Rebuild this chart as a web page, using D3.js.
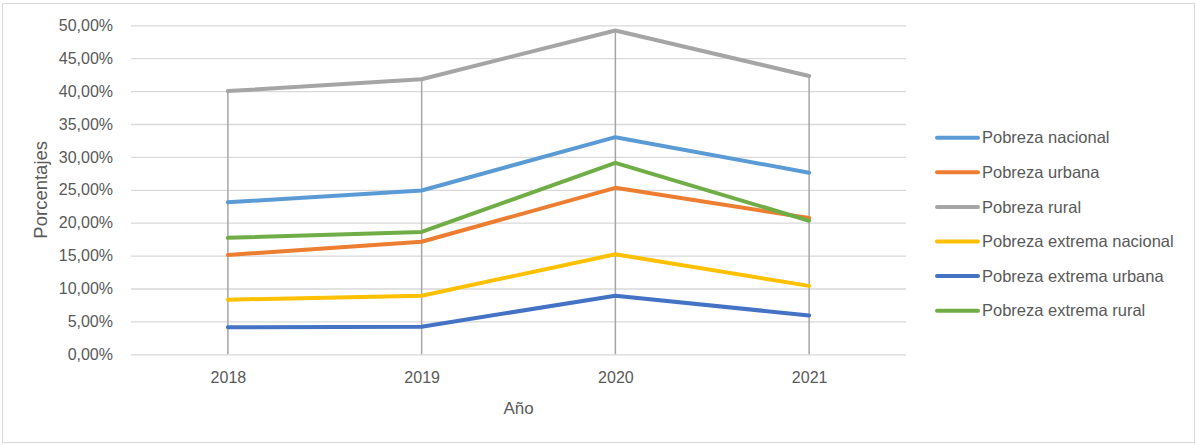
<!DOCTYPE html>
<html>
<head>
<meta charset="utf-8">
<script src="https://cdn.jsdelivr.net/npm/d3@7"></script>
<style>
  body { margin: 0; background: #fff; }
  text { font-family: "Liberation Sans", Arial, sans-serif; fill: #595959; }
</style>
</head>
<body>
<div id="chart"></div>
<script>
// datos
var years = ['2018', '2019', '2020', '2021'];
var seriesNames = ['Pobreza nacional', 'Pobreza urbana', 'Pobreza rural',
  'Pobreza extrema nacional', 'Pobreza extrema urbana', 'Pobreza extrema rural'];
var pobrezaNacional = [23.1, 24.9, 33.0, 27.6];
var pobrezaUrbana = [15.1, 17.1, 25.3, 20.7];
var pobrezaRural = [40.0, 41.8, 49.2, 42.3];
var extremaNacional = [8.3, 8.9, 15.2, 10.4];
var extremaUrbana = [4.1, 4.2, 8.9, 5.9];
var extremaRural = [17.7, 18.6, 29.1, 20.3];
var yTicks = [0, 5, 10, 15, 20, 25, 30, 35, 40, 45, 50];
var colors = ['#5B9BD5', '#ED7D31', '#A5A5A5', '#FFC000', '#4472C4', '#70AD47'];

var allSeries = [pobrezaNacional, pobrezaUrbana, pobrezaRural,
  extremaNacional, extremaUrbana, extremaRural];

var width = 1196, height = 445;
var plotLeft = 131, plotRight = 906, plotTop = 25.3, plotBottom = 354.3;

var svg = d3.select('#chart').append('svg')
  .attr('width', width)
  .attr('height', height);

// marco
svg.append('rect')
  .attr('x', 2.5).attr('y', 3.5)
  .attr('width', 1192).attr('height', 439)
  .attr('fill', 'none')
  .attr('stroke', '#D9D9D9')
  .attr('stroke-width', 1);

var x = d3.scalePoint().domain(years).range([plotLeft, plotRight]).padding(0.5);
var y = d3.scaleLinear().domain([0, 50]).range([plotBottom, plotTop]);

// eje y + lineas de cuadricula
var yAxis = svg.append('g')
  .attr('transform', 'translate(' + plotLeft + ',0)')
  .call(d3.axisLeft(y).tickValues(yTicks)
    .tickSize(-(plotRight - plotLeft))
    .tickPadding(18)
    .tickFormat(function(d) { return d.toFixed(2).replace('.', ',') + '%'; }));
yAxis.select('.domain').remove();
yAxis.selectAll('line').attr('stroke', '#D9D9D9').attr('stroke-width', 1.3);
yAxis.selectAll('text')
  .style('font-size', '16px')
  .style('font-family', '"Liberation Sans", Arial, sans-serif')
  .attr('fill', '#595959');

// eje x
var xAxis = svg.append('g')
  .attr('transform', 'translate(0,' + plotBottom + ')')
  .call(d3.axisBottom(x).tickSize(0).tickPadding(17));
xAxis.select('.domain').remove();
xAxis.selectAll('text')
  .style('font-size', '16px')
  .style('font-family', '"Liberation Sans", Arial, sans-serif')
  .attr('fill', '#595959');

// lineas de caida
svg.append('g').selectAll('line')
  .data(years)
  .enter().append('line')
  .attr('x1', function(d) { return x(d); })
  .attr('x2', function(d) { return x(d); })
  .attr('y1', function(d, i) { return y(d3.max(allSeries, function(s) { return s[i]; })); })
  .attr('y2', y(0))
  .attr('stroke', '#A5A5A5')
  .attr('stroke-width', 1.5);

var line = d3.line()
  .x(function(d, i) { return x(years[i]); })
  .y(function(d) { return y(d); });

svg.append('g').selectAll('path')
  .data(allSeries)
  .enter().append('path')
  .attr('d', line)
  .attr('fill', 'none')
  .attr('stroke', function(d, i) { return colors[i]; })
  .attr('stroke-width', 4)
  .attr('stroke-linejoin', 'round')
  .attr('stroke-linecap', 'round');

// titulos de ejes
svg.append('text')
  .attr('x', (plotLeft + plotRight) / 2)
  .attr('y', 414)
  .attr('text-anchor', 'middle')
  .style('font-size', '17px')
  .text('Año');

svg.append('text')
  .attr('transform', 'translate(47,' + ((plotTop + plotBottom) / 2) + ') rotate(-90)')
  .attr('text-anchor', 'middle')
  .style('font-size', '18.5px')
  .text('Porcentajes');

// leyenda
var legend = svg.append('g').selectAll('g')
  .data(seriesNames)
  .enter().append('g')
  .attr('transform', function(d, i) { return 'translate(937,' + (137.7 + i * 34.6) + ')'; });
legend.append('line')
  .attr('x1', 0).attr('x2', 41)
  .attr('stroke', function(d, i) { return colors[i]; })
  .attr('stroke-width', 4)
  .attr('stroke-linecap', 'round');
legend.append('text')
  .attr('x', 45)
  .attr('dy', '0.35em')
  .style('font-size', '16.5px')
  .text(function(d) { return d; });
</script>
</body>
</html>
